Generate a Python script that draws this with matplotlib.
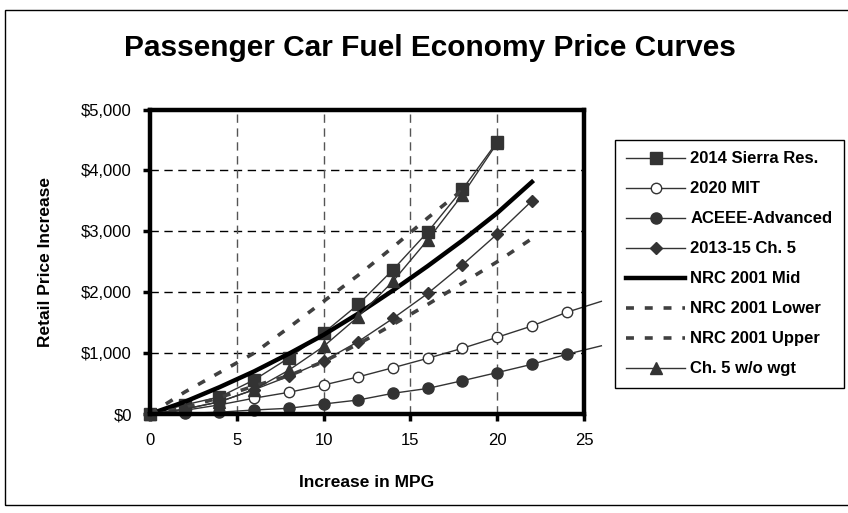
import matplotlib
matplotlib.use("Agg")
import matplotlib.pyplot as plt
from matplotlib.patches import Rectangle

plt.rcParams['font.family'] = ['Liberation Sans', 'DejaVu Sans']

# data
x_sierra = [0, 2, 4, 6, 8, 10, 12, 14, 16, 18, 20]
sierra = [0, 150, 280, 560, 920, 1330, 1800, 2370, 2990, 3690, 4470]

x_mit = [0, 2, 4, 6, 8, 10, 12, 14, 16, 18, 20, 22, 24, 26]
mit = [0, 60, 150, 260, 356, 476, 610, 760, 915, 1080, 1260, 1445, 1670, 1850]

x_aceee = [0, 2, 4, 6, 8, 10, 12, 14, 16, 18, 20, 22, 24, 26]
aceee = [0, 10, 30, 66, 94, 164, 230, 340, 420, 547, 680, 816, 980, 1120]

x_ch5 = [0, 2, 4, 6, 8, 10, 12, 14, 16, 18, 20, 22]
ch5 = [0, 80, 200, 400, 620, 870, 1190, 1570, 1980, 2450, 2955, 3500]

x_mid = [0, 2, 4, 6, 8, 10, 12, 14, 16, 18, 20, 22]
nrc_mid = [0, 200, 440, 700, 990, 1300, 1650, 2030, 2430, 2850, 3300, 3810]

x_lower = [0, 2, 4, 6, 8, 10, 12, 14, 16, 18, 20, 22]
nrc_lower = [0, 100, 270, 460, 630, 860, 1150, 1470, 1800, 2150, 2500, 2880]

x_upper = [0, 2, 4, 6, 8, 10, 12, 14, 16, 18]
nrc_upper = [0, 360, 680, 1000, 1420, 1850, 2280, 2740, 3220, 3680]

x_nowgt = [0, 2, 4, 6, 8, 10, 12, 14, 16, 18, 20]
ch5_nowgt = [0, 80, 200, 400, 720, 1110, 1600, 2180, 2860, 3600, 4450]

yticks = [0, 1000, 2000, 3000, 4000, 5000]
ytick_labels = ['$0', '$1,000', '$2,000', '$3,000', '$4,000', '$5,000']
xticks = [0, 5, 10, 15, 20, 25]

W, H = 848, 513
fig = plt.figure(figsize=(W / 100, H / 100), dpi=100)
ax = fig.add_axes([150 / W, 1 - 414 / H, (584 - 150) / W, (414 - 109.5) / H])

# chart border
fig.patches.append(Rectangle((5 / W, 8 / H), 1.2, 1 - 18 / H, transform=fig.transFigure,
                             fill=False, edgecolor='black', linewidth=1.0))

dk = '#333333'
lw = 1.0
n_mit = len(x_mit) - 1
n_ace = len(x_aceee) - 1

ax.plot(x_sierra, sierra, color=dk, lw=lw, marker='s', ms=8, mfc=dk, mec=dk,
        label='2014 Sierra Res.', clip_on=False, zorder=5)
ax.plot(x_mit, mit, color=dk, lw=lw, marker='o', ms=7.5, mfc='white', mec=dk,
        markevery=list(range(n_mit)), label='2020 MIT', clip_on=False, zorder=5)
ax.plot(x_aceee, aceee, color=dk, lw=lw, marker='o', ms=8, mfc=dk, mec=dk,
        markevery=list(range(n_ace)), label='ACEEE-Advanced', clip_on=False, zorder=5)
ax.plot(x_ch5, ch5, color=dk, lw=lw, marker='D', ms=6.5, mfc=dk, mec=dk,
        label='2013-15 Ch. 5', clip_on=False, zorder=5)
ax.plot(x_mid, nrc_mid, color='black', lw=3.2, label='NRC 2001 Mid',
        clip_on=False, zorder=5)
ax.plot(x_lower, nrc_lower, color='#404040', lw=2.6, dashes=(2.2, 3.0),
        label='NRC 2001 Lower', clip_on=False, zorder=5)
ax.plot(x_upper, nrc_upper, color='#404040', lw=2.6, dashes=(2.2, 3.0),
        label='NRC 2001 Upper', clip_on=False, zorder=5)
ax.plot(x_nowgt, ch5_nowgt, color=dk, lw=lw, marker='^', ms=8.5, mfc=dk, mec=dk,
        label='Ch. 5 w/o wgt', clip_on=False, zorder=5)

ax.set_xlim(0, 25)
ax.set_ylim(0, 5000)
ax.set_xticks(xticks)
ax.set_yticks(yticks)
ax.set_yticklabels(ytick_labels)
ax.tick_params(axis='both', labelsize=12, width=2.5, length=5, direction='out')
ax.tick_params(axis='x', pad=9)
ax.tick_params(axis='y', pad=8)

for g in yticks[1:-1]:
    ax.axhline(g, color='black', lw=1.0, dashes=(6, 4), zorder=1)
for g in xticks[1:-1]:
    ax.axvline(g, color='#555555', lw=1.0, dashes=(6, 4), zorder=1)

for s in ax.spines.values():
    s.set_linewidth(3.2)
    s.set_zorder(6)

ax.set_xlabel('Increase in MPG', fontsize=12.5, fontweight='bold', labelpad=19)
ax.set_ylabel('Retail Price Increase', fontsize=12.5, fontweight='bold', labelpad=20)

fig.text(430 / W, 1 - 48 / H, 'Passenger Car Fuel Economy Price Curves',
         ha='center', va='center', fontsize=21.5, fontweight='bold')

leg = fig.legend(loc='upper left', bbox_to_anchor=(615 / W, 1 - 140 / H),
                 bbox_transform=fig.transFigure, frameon=True, fancybox=False,
                 edgecolor='black', framealpha=1, handlelength=3.5,
                 handletextpad=0.35, labelspacing=0.9, borderpad=0.68,
                 borderaxespad=0,
                 prop={'size': 12, 'weight': 'bold'})
leg.get_frame().set_linewidth(1.0)

fig.savefig('out.png', dpi=100)
